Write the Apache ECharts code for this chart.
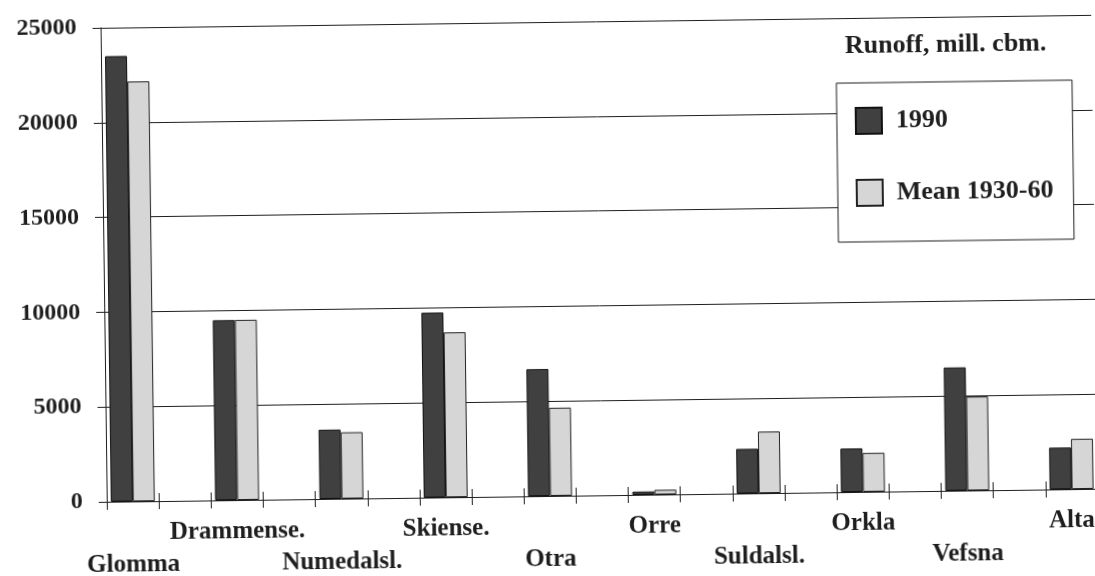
<!DOCTYPE html>
<html>
<head>
<meta charset="utf-8">
<script src="https://cdn.jsdelivr.net/npm/echarts@6/dist/echarts.min.js"></script>
<style>
  html, body { margin: 0; padding: 0; background: #fff; }
  #myChart { width: 1095px; height: 576px; transform: rotate(-0.75deg); transform-origin: 50% 50%; }
</style>
</head>
<body>
<div id="myChart"></div>
<script>
  // rivers, left to right
  var categories = ['Glomma', 'Drammense.', 'Numedalsl.', 'Skiense.', 'Otra', 'Orre', 'Suldalsl.', 'Orkla', 'Vefsna', 'Alta'];
  // runoff, mill. cbm.
  var runoff1990 = [23500, 9500, 3650, 9750, 6700, 170, 2350, 2300, 6500, 2200];
  var runoffMean = [22150, 9500, 3500, 8700, 4650, 250, 3250, 2050, 4950, 2650];
  var yTicks = [0, 5000, 10000, 15000, 20000, 25000];

  // each river sits in one slot with an empty slot between rivers
  var slots = [], d1990 = [], dMean = [];
  for (var i = 0; i < categories.length; i++) {
    slots.push(categories[i]);
    d1990.push(runoff1990[i]);
    dMean.push(runoffMean[i]);
    if (i < categories.length - 1) {
      slots.push('_gap' + i);
      d1990.push(null);
      dMean.push(null);
    }
  }

  var font = '"Liberation Serif", "DejaVu Serif", serif';
  var ink = '#1e1e1e';

  var myChart = echarts.init(document.getElementById('myChart'));
  myChart.setOption({
    backgroundColor: '#ffffff',
    animation: false,
    title: {
      text: 'Runoff, mill. cbm.',
      left: 848,
      top: 37,
      padding: 0,
      textStyle: { fontFamily: font, fontWeight: 'bold', fontSize: 26, color: ink }
    },
    legend: {
      orient: 'vertical',
      left: 839,
      top: 87,
      padding: [24, 20, 35, 18],
      itemWidth: 26,
      itemHeight: 26,
      itemGap: 44,
      backgroundColor: '#ffffff',
      borderColor: ink,
      borderWidth: 1,
      borderRadius: 0,
      icon: 'rect',
      data: ['1990', 'Mean 1930-60'],
      textStyle: { fontFamily: font, fontWeight: 'bold', fontSize: 26, color: ink, padding: [0, 0, 0, 9] }
    },
    grid: { left: 104, right: 0, top: 22, bottom: 80, containLabel: false },
    xAxis: [{
      type: 'category',
      data: slots,
      boundaryGap: true,
      axisLine: { lineStyle: { color: ink, width: 1 } },
      axisTick: { show: true, interval: 0, alignWithLabel: false, length: 8, lineStyle: { color: ink } },
      axisLabel: {
        interval: 0,
        margin: 16,
        fontFamily: font,
        fontWeight: 'bold',
        fontSize: 25,
        lineHeight: 32,
        color: ink,
        formatter: function (v, idx) {
          if (v.indexOf('_gap') === 0) return '';
          return (idx / 2) % 2 === 0 ? '\n' + v : v;
        }
      }
    }, {
      // inner half of the cross-shaped ticks
      type: 'category',
      data: slots,
      position: 'bottom',
      boundaryGap: true,
      axisLine: { show: false },
      axisTick: { show: true, inside: true, interval: 0, length: 8, lineStyle: { color: ink } },
      axisLabel: { show: false }
    }],
    yAxis: {
      type: 'value',
      min: 0,
      max: 25000,
      interval: 5000,
      axisLine: { show: true, lineStyle: { color: ink, width: 1 } },
      axisTick: { show: true, length: 8, lineStyle: { color: ink } },
      splitLine: { show: true, lineStyle: { color: ink, width: 1 } },
      axisLabel: {
        margin: 24,
        fontFamily: font,
        fontWeight: 'bold',
        fontSize: 24,
        color: ink,
        formatter: function (v) { return String(v); }
      }
    },
    series: [{
      name: '1990',
      type: 'bar',
      data: d1990,
      barWidth: 22,
      barGap: '0%',
      itemStyle: { color: '#404040', borderColor: '#111111', borderWidth: 1 }
    }, {
      name: 'Mean 1930-60',
      type: 'bar',
      data: dMean,
      barWidth: 22,
      barGap: '0%',
      itemStyle: { color: '#d6d6d6', borderColor: '#222222', borderWidth: 1 }
    }]
  });
</script>
</body>
</html>
